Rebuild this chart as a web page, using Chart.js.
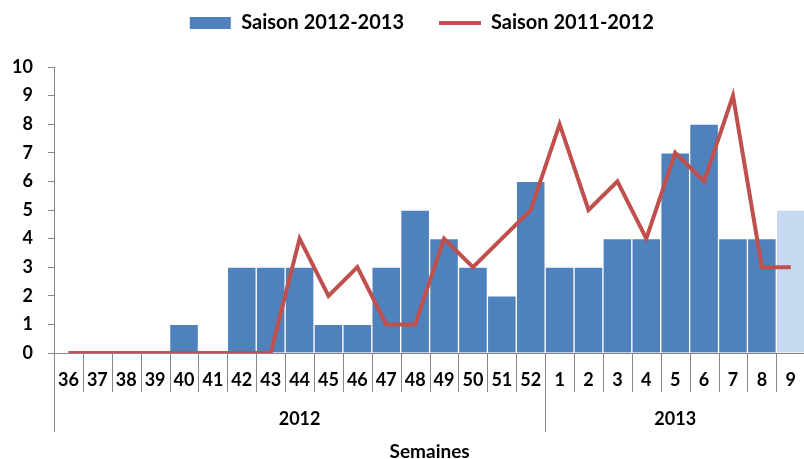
<!DOCTYPE html>
<html>
<head>
  <script src="https://cdn.jsdelivr.net/npm/chart.js"></script>
  <style>
    html, body { margin: 0; padding: 0; overflow: hidden; background: #fff; }
    canvas { display: block; }
  </style>
</head>
<body>
  <canvas id="chart" width="812" height="459"></canvas>

  <script>
    // Weeks on the x axis (season runs from week 36 to week 9)
    var weeks = ['36', '37', '38', '39', '40', '41', '42', '43', '44', '45', '46', '47', '48', '49', '50', '51', '52',
                 '1', '2', '3', '4', '5', '6', '7', '8', '9'];
    // Year groups under the week labels: label and index of first week
    var yearLabels = ['2012', '2013'];
    var yearStart = [0, 17];

    // Saison 2012-2013 (bars)
    var season1213 = [0, 0, 0, 0, 1, 0, 3, 3, 3, 1, 1, 3, 5, 4, 3, 2, 6, 3, 3, 4, 4, 7, 8, 4, 4, 5];
    // Saison 2011-2012 (line)
    var season1112 = [0, 0, 0, 0, 0, 0, 0, 0, 4, 2, 3, 1, 1, 4, 3, 4, 5, 8, 5, 6, 4, 7, 6, 9, 3, 3];

    var yTicks = [0, 1, 2, 3, 4, 5, 6, 7, 8, 9, 10];

    var blue = '#4F81BD';
    var lightBlue = '#C6D9F1';
    var red = '#C0504D';
    var axisGrey = '#868686';
    var font = 'Lato';

    // last week is still provisional, drawn lighter
    var barColors = weeks.map(function(w, i) {
      return i === weeks.length - 1 ? lightBlue : blue;
    });

    // draws the week separators and the year row below the axis
    var groupAxis = {
      id: 'groupAxis',
      afterLayout: function(chart) {
        // legend sits higher and a bit right of where chart.js centres it
        chart.legend.top -= 24;
        chart.legend.left += 16;
        chart.legend.right += 16;
      },
      afterDraw: function(chart) {
        var ctx = chart.ctx;
        var x = chart.scales.x;
        var area = chart.chartArea;
        var half = (x.getPixelForValue(1) - x.getPixelForValue(0)) / 2;
        ctx.save();
        ctx.strokeStyle = axisGrey;
        ctx.lineWidth = 1;
        for (var i = 0; i <= weeks.length; i++) {
          var px = Math.round(x.getPixelForValue(i) - half) + 0.5;
          var long = yearStart.indexOf(i) >= 0 || i === weeks.length;
          ctx.beginPath();
          ctx.moveTo(px, area.bottom);
          ctx.lineTo(px, area.bottom + (long ? 79 : 39));
          ctx.stroke();
        }
        ctx.fillStyle = '#000';
        ctx.font = 'bold 18px ' + font;
        ctx.textAlign = 'center';
        ctx.textBaseline = 'middle';
        for (var g = 0; g < yearLabels.length; g++) {
          var first = yearStart[g];
          var last = g + 1 < yearStart.length ? yearStart[g + 1] - 1 : weeks.length - 1;
          var cx = (x.getPixelForValue(first) + x.getPixelForValue(last)) / 2;
          ctx.fillText(yearLabels[g], cx, area.bottom + 66);
        }
        ctx.restore();
      }
    };

    var config = {
      type: 'bar',
      data: {
        labels: weeks,
        datasets: [{
          label: 'Saison 2012-2013',
          data: season1213,
          backgroundColor: barColors,
          borderColor: '#ffffff',
          borderWidth: 1,
          barPercentage: 1,
          categoryPercentage: 1,
          order: 1
        }, {
          type: 'line',
          label: 'Saison 2011-2012',
          data: season1112,
          borderColor: red,
          backgroundColor: red,
          borderWidth: 4,
          pointRadius: 0,
          tension: 0,
          fill: false,
          order: 0
        }]
      },
      options: {
        responsive: false,
        animation: false,
        layout: { padding: { top: 2, right: 1, left: 0, bottom: 0 } },
        plugins: {
          tooltip: { enabled: false },
          legend: {
            position: 'top',
            labels: {
              usePointStyle: true,
              pointStyleWidth: 42,
              boxHeight: 13,
              padding: 35,
              color: '#000',
              font: { family: font, size: 20, weight: 'bold' },
              sort: function(a, b) { return a.datasetIndex - b.datasetIndex; },
              generateLabels: function(chart) {
                var items = Chart.defaults.plugins.legend.labels.generateLabels(chart);
                items.forEach(function(it) {
                  if (it.datasetIndex === 0) {
                    it.pointStyle = 'rect';
                    it.fillStyle = blue;
                    it.strokeStyle = '#ffffff';
                    it.lineWidth = 1;
                  } else {
                    it.pointStyle = 'line';
                    it.strokeStyle = red;
                    it.lineWidth = 4;
                  }
                });
                return items;
              }
            }
          }
        },
        scales: {
          x: {
            type: 'category',
            grid: { display: false, drawTicks: false },
            border: { display: true, color: axisGrey },
            ticks: {
              color: '#000',
              padding: 16,
              maxRotation: 0,
              autoSkip: false,
              font: { family: font, size: 18, weight: 'bold' }
            },
            title: {
              display: true,
              text: 'Semaines',
              color: '#000',
              padding: { top: -4, bottom: -4 },
              font: { family: font, size: 19, weight: 'bold' }
            },
            afterFit: function(scale) { scale.height = 106; }
          },
          y: {
            min: 0,
            max: 10,
            grid: { drawOnChartArea: false, drawTicks: true, tickLength: 6, color: axisGrey },
            border: { display: true, color: axisGrey },
            afterBuildTicks: function(scale) {
              scale.ticks = yTicks.map(function(v) { return { value: v }; });
            },
            ticks: {
              color: '#000',
              padding: 15,
              font: { family: font, size: 18, weight: 'bold' }
            },
            afterFit: function(scale) { scale.width = 54; }
          }
        }
      },
      plugins: [groupAxis]
    };

    new Chart(document.getElementById('chart').getContext('2d'), config);
  </script>
</body>
</html>
